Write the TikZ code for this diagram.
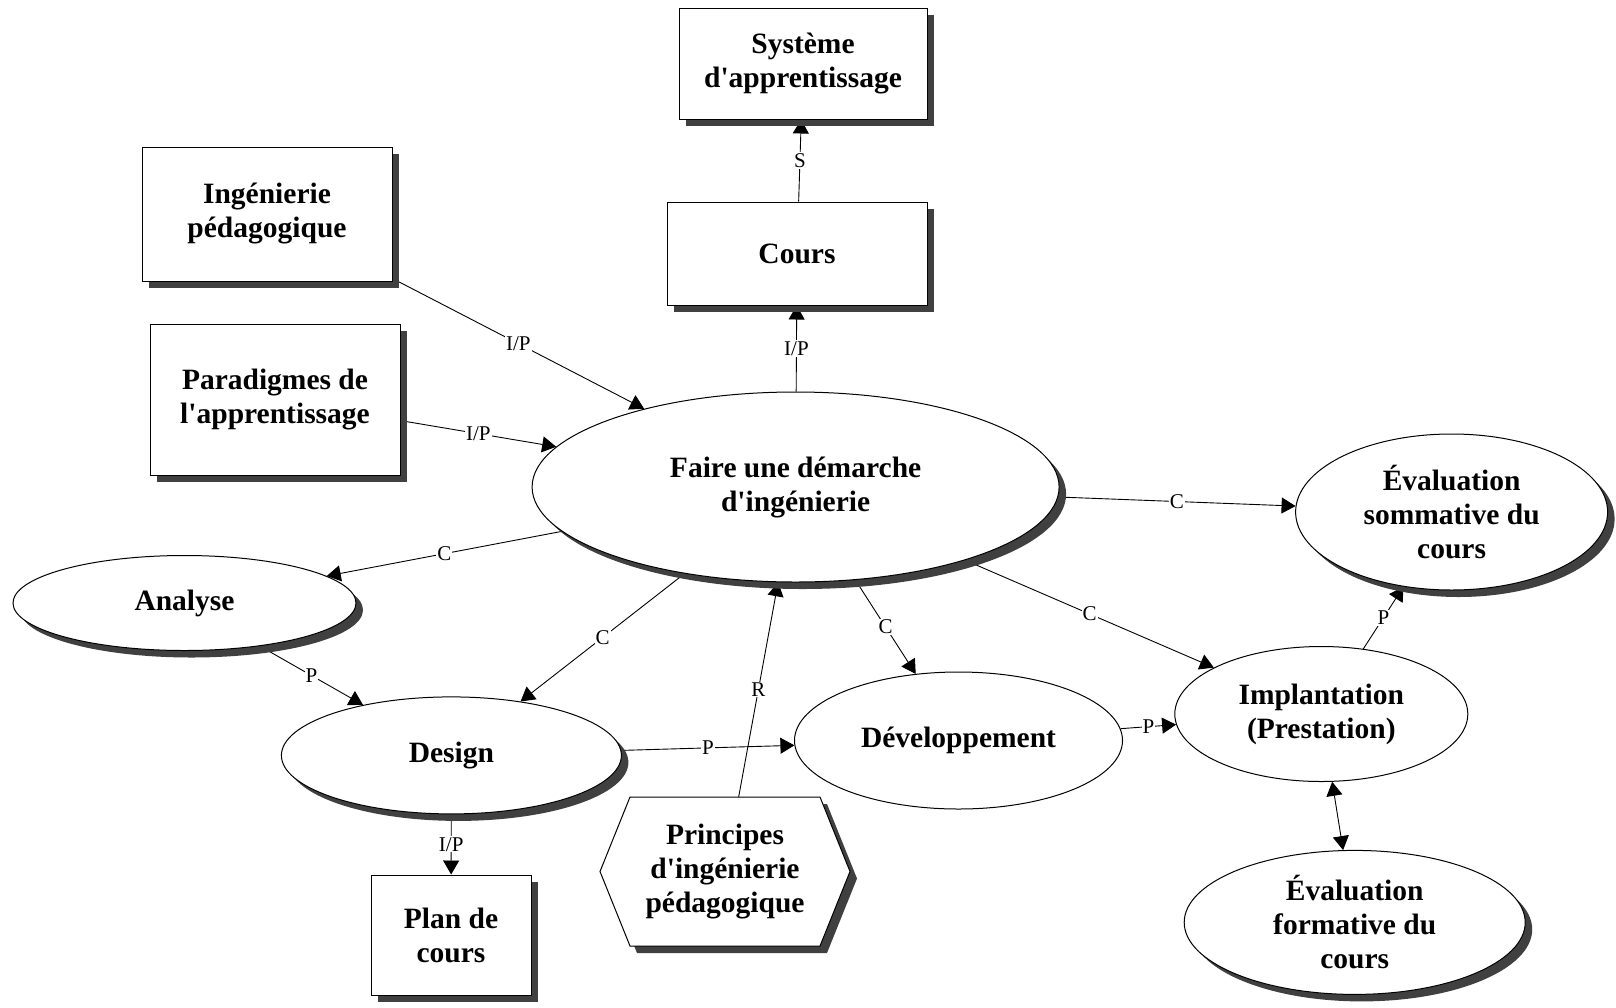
\documentclass[tikz,border=0pt]{standalone}
\usepackage{fontspec}
\newfontfamily\tnr{Liberation Serif}
\usetikzlibrary{shapes.geometric,shadows,arrows.meta}
\pgfdeclarelayer{bg}
\pgfdeclarelayer{paper}
\pgfsetlayers{paper,bg,main}
\tikzset{
 base/.style={draw=black, line width=1pt, fill=white, font=\tnr\bfseries\fontsize{29.5}{34}\selectfont, align=center, inner sep=0pt},
 shad/.style={drop shadow={shadow xshift=7pt, shadow yshift=-7pt, fill=black!75, opacity=1}},
 box/.style={base, rectangle},
 ell/.style={base, ellipse},
 conn/.style={line width=0.9pt, -{Triangle[length=14pt,width=16pt]}},
 lab/.style={font=\tnr\fontsize{21}{23}\selectfont, fill=white, inner sep=1pt}
}
\begin{document}
\begin{tikzpicture}[x=1pt,y=-1pt]
\begin{pgfonlayer}{paper}
\fill[white] (0,0) rectangle (1616,1007);
\end{pgfonlayer}
\useasboundingbox (0,0) rectangle (1616,1007);
% boxes
\node[box,shad,minimum width=248pt,minimum height=111pt] (sys) at (803,63.5) {Système\\d'apprentissage};
\node[box,shad,minimum width=260pt,minimum height=103pt] (cours) at (797,253.5) {Cours};
\node[box,shad,minimum width=250pt,minimum height=134pt] (ing) at (267,214) {Ingénierie\\pédagogique};
\node[box,shad,minimum width=250pt,minimum height=151pt] (para) at (275,399.5) {Paradigmes de\\l'apprentissage};
\node[box,shad,minimum width=160pt,minimum height=120pt] (plan) at (451,935) {Plan de\\cours};
% hexagon
\draw[base,shad] (600,871.5) -- (630,797) -- (820,797) -- (850,871.5) -- (820,946) -- (630,946) -- cycle;
\node[inner sep=0pt,minimum width=250pt,minimum height=149pt,font=\tnr\bfseries\fontsize{29.5}{34}\selectfont,align=center] (princ) at (725,871.5) {Principes\\d'ingénierie\\pédagogique};
% ellipses
\node[ell,shad,minimum width=527pt,minimum height=190pt] (faire) at (795.6,487) {Faire une démarche\\d'ingénierie};
\node[ell,shad,minimum width=312pt,minimum height=156pt] (evs) at (1451.6,512) {Évaluation\\sommative du\\cours};
\node[ell,shad,minimum width=343pt,minimum height=95pt] (ana) at (184.5,603) {Analyse};
\node[ell,shad,minimum width=340pt,minimum height=117pt] (des) at (451.4,755.4) {Design};
\node[ell,minimum width=328pt,minimum height=137pt] (dev) at (958.5,740.5) {Développement};
\node[ell,minimum width=293pt,minimum height=135pt] (imp) at (1321.3,714) {Implantation\\(Prestation)};
\node[ell,shad,minimum width=341pt,minimum height=144pt] (evf) at (1354.7,922.4) {Évaluation\\formative du\\cours};
% connectors
\begin{pgfonlayer}{bg}
\draw[conn] (ing) -- node[lab]{I/P} (faire);
\draw[conn] (para) -- node[lab]{I/P} (faire);
\draw[conn] (faire) -- node[lab]{I/P} (cours);
\draw[conn] (cours) -- node[lab]{S} (sys);
\draw[conn] (faire) -- node[lab]{C} (evs);
\draw[conn] (faire) -- node[lab]{C} (ana);
\draw[conn] (faire) -- node[lab]{C} (des);
\draw[conn] (princ) -- node[lab]{R} (faire);
\draw[conn] (faire) -- node[lab]{C} (dev);
\draw[conn] (faire) -- node[lab]{C} (imp);
\draw[conn] (ana) -- node[lab]{P} (des);
\draw[conn] (des) -- node[lab]{P} (dev);
\draw[conn] (des) -- node[lab]{I/P} (plan);
\draw[conn] (dev) -- node[lab]{P} (imp);
\draw[conn] (imp) -- node[lab]{P} (evs);
\draw[line width=0.9pt, {Triangle[length=14pt,width=16pt]}-{Triangle[length=14pt,width=16pt]}] (imp) -- (evf);
\end{pgfonlayer}
\end{tikzpicture}
\end{document}
